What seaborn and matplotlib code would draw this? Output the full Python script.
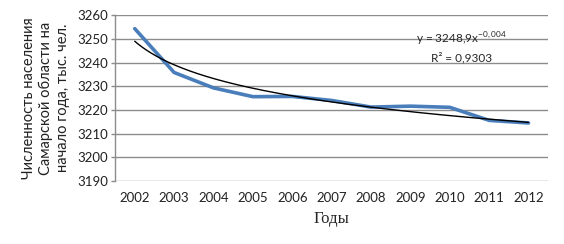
import numpy as np
import pandas as pd
import matplotlib
matplotlib.use("Agg")
import matplotlib.pyplot as plt
import seaborn as sns

years = ["2002", "2003", "2004", "2005", "2006", "2007", "2008", "2009", "2010", "2011", "2012"]
population = [3254.3, 3235.8, 3229.3, 3225.6, 3225.7, 3224.0, 3221.2, 3221.6, 3221.1, 3215.6, 3214.5]
y_ticks = [3190, 3200, 3210, 3220, 3230, 3240, 3250, 3260]
eq_text = "y = 3248,9x$^{\\mathregular{-0,004}}$"
r2_text = "R² = 0,9303"

sns.set_theme(style="white")
plt.rcParams["font.family"] = ["Lato", "DejaVu Sans"]

df = pd.DataFrame({"year": years, "pop": population, "idx": np.arange(len(years))})

# power trend line (Excel style): fit ln(y) = ln(a) + b ln(x), x = 1..n
xn = np.arange(1, len(years) + 1)
b, lna = np.polyfit(np.log(xn), np.log(population), 1)
xs = np.linspace(1, len(years), 200)
trend = np.exp(lna) * xs ** b
df_trend = pd.DataFrame({"x": xs - 1, "y": trend})

fig = plt.figure(figsize=(5.64, 2.44), dpi=100)
ax = fig.add_axes([0.204, 0.258, 0.768, 0.680])

for t in y_ticks:
    ax.axhline(t, color="#8c8c8c", lw=1.0, zorder=0)

sns.lineplot(data=df, x="idx", y="pop", ax=ax, color="#4a7ebb", lw=2.6, zorder=3)
sns.lineplot(data=df_trend, x="x", y="y", ax=ax, color="black", lw=1.0, zorder=4)

ax.set_xlim(-0.5, len(years) - 0.5)
ax.set_ylim(y_ticks[0], y_ticks[-1])
ax.set_yticks(y_ticks)
ax.set_yticklabels([str(t) for t in y_ticks], fontsize=9.5, color="#222222")
ax.set_xticks(np.arange(len(years)))
ax.set_xticklabels(years, fontsize=9.5, color="#222222")
ax.tick_params(axis="y", length=3, width=1, color="#8c8c8c", pad=2, left=True)
ax.tick_params(axis="x", length=0, pad=8)

for s in ["top", "right", "bottom"]:
    ax.spines[s].set_visible(False)
ax.spines["left"].set_color("#8c8c8c")
ax.spines["left"].set_linewidth(1.0)

ax.set_xlabel("Годы", fontsize=12, family=["Liberation Serif", "DejaVu Serif"], labelpad=5)
ax.set_ylabel("Численность населения\nСамарской области на\nначало года, тыс. чел.",
              fontsize=10.5, linespacing=1.28, labelpad=5, color="#222222")

ax.text(0.8, 0.855, eq_text, transform=ax.transAxes, ha="center", va="center", fontsize=8.5)
ax.text(0.8, 0.745, r2_text, transform=ax.transAxes, ha="center", va="center", fontsize=8.5)

fig.savefig("out.png", dpi=100)
